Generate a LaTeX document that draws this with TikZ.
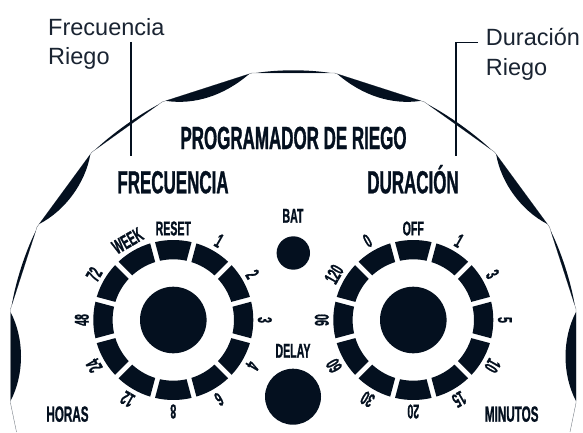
\documentclass[tikz,border=0pt]{standalone}
\usepackage{fontspec}
\setmainfont{Liberation Sans}
\newfontfamily\bebas[FakeStretch=0.53,FakeBold=0.9]{Liberation Sans}
\usetikzlibrary{calc}
\definecolor{ink}{HTML}{04101F}
\definecolor{call}{HTML}{1A2432}
\newcommand{\lensshape}[5]{%
  \coordinate (lp) at (#1);\coordinate (lq) at (#2);
  \fill[ink] (lp) .. controls ($(lp)!#4!(lq)!#3pt!90:(lq)$) and ($(lp)!#5!(lq)!#3pt!90:(lq)$) .. (lq) -- cycle;}
\newcommand{\dial}[3]{%
  \fill[ink] (#1) circle[radius=33.3];
  \foreach \t [count=\k from 0] in {#3} {
    \pgfmathsetmacro\a{90-30*\k}
    \pgfmathsetmacro\ai{\a-13.21}\pgfmathsetmacro\aj{\a+13.21}
    \pgfmathsetmacro\bi{\a+12.64}\pgfmathsetmacro\bj{\a-12.64}
    \pgfmathsetmacro\rot{\a-90}
    \fill[ink,shift={(#1)}] (\ai:80) arc[start angle=\ai,end angle=\aj,radius=80]
      -- (\bi:60.7) arc[start angle=\bi,end angle=\bj,radius=60.7] -- cycle;
    \node[dlabel,rotate=\rot] (#2\k) at ($(#1)+(\a:91.5)$) {\t};
  }}
\tikzset{
  dlabel/.style={inner sep=0pt,text=ink,font=\bebas\bfseries\fontsize{20}{20}\selectfont},
  head/.style={inner sep=0pt,anchor=base,text=ink,font=\bebas\bfseries\fontsize{32}{32}\selectfont},
  unit/.style={inner sep=0pt,anchor=base,text=ink,font=\bebas\bfseries\fontsize{22}{22}\selectfont},
  callout/.style={inner sep=0pt,anchor=base west,text=call,font=\fontsize{23.5}{23.5}\selectfont},
  leader/.style={draw=ink,line width=1.8pt},
  edge line/.style={draw=ink!60,line width=0.35pt}
}
\begin{document}
\begin{tikzpicture}[x=1pt,y=1pt]
\useasboundingbox (0,0) rectangle (583,432);
\fill[white] (0,0) rectangle (583,432);
% outline vertices (y measured upward)
\coordinate (A0) at (16.5,0);
\coordinate (A1) at (10.5,29);
\coordinate (A2) at (10.5,123);
\coordinate (A3) at (37,205);
\coordinate (A4) at (92,280);
\coordinate (A5) at (162,330);
\coordinate (A6) at (252,359);
\coordinate (B6) at (334.5,359);
\coordinate (B5) at (424.5,330);
\coordinate (B4) at (494.5,280);
\coordinate (B3) at (549.5,205);
\coordinate (B2) at (576,123);
\coordinate (B1) at (576,29);
\coordinate (B0) at (570,0);
\draw[edge line] (A0)--(A1)--(A2)--(A3)--(A4)--(A5)--(A6)--(B6)--(B5)--(B4)--(B3)--(B2)--(B1)--(B0);
% lens-shaped strokes, left to right
\lensshape{$(A1)+(0,2)$}{$(A2)+(0,-3)$}{-14}{.3}{.7}
\lensshape{$(A2)!.05!(A3)$}{$(A2)!.95!(A3)$}{3.5}{.3}{.7}
\lensshape{$(A3)!.04!(A4)$}{$(A3)!.97!(A4)$}{-13}{.3}{.7}
\lensshape{$(A4)!.05!(A5)$}{$(A4)!.95!(A5)$}{3.2}{.3}{.7}
\lensshape{$(A5)!.04!(A6)$}{$(A5)!.97!(A6)$}{-13}{.3}{.65}
\lensshape{$(A6)!.05!(B6)$}{$(A6)!.95!(B6)$}{3.6}{.3}{.7}
\lensshape{$(B6)!.03!(B5)$}{$(B6)!.96!(B5)$}{-13}{.35}{.7}
\lensshape{$(B5)!.05!(B4)$}{$(B5)!.95!(B4)$}{3.2}{.3}{.7}
\lensshape{$(B4)!.03!(B3)$}{$(B4)!.96!(B3)$}{-13}{.3}{.7}
\lensshape{$(B3)!.05!(B2)$}{$(B3)!.95!(B2)$}{3.5}{.3}{.7}
\lensshape{$(B2)+(0,-3)$}{$(B1)+(0,2)$}{-14}{.3}{.7}
% titles
\node[head] (title) at (293.5,283) {PROGRAMADOR DE RIEGO};
\node[head] (frec) at (173,238.7) {FRECUENCIA};
\node[head] (dura) at (413,238.7) {DURACIÓN};
% dials
\coordinate (cL) at (173.3,112);
\coordinate (cR) at (413.3,112);
\dial{cL}{L}{RESET,1,2,3,4,6,8,12,24,48,72,WEEK}
\dial{cR}{R}{OFF,1,3,5,10,15,20,30,60,90,120,0}
% centre buttons
\node[circle,fill=ink,minimum size=33.4pt,inner sep=0pt] (bat) at (293.3,179) {};
\node[circle,fill=ink,minimum size=56pt,inner sep=0pt] (delay) at (293,35.3) {};
\node[dlabel,anchor=base] (batl) at (293,209.3) {BAT};
\node[dlabel,anchor=base] (delayl) at (293,74.3) {DELAY};
\node[unit] (horas) at (67.5,10.3) {HORAS};
\node[unit] (minutos) at (511.7,10.3) {MINUTOS};
% callouts
\node[callout] (c1a) at (48,396.3) {Frecuencia};
\node[callout] (c1b) at (48,367) {Riego};
\node[callout] (c2a) at (485.7,386) {Duración};
\node[callout] (c2b) at (485.7,356) {Riego};
\coordinate (f1) at (130.7,390);
\coordinate (f2) at (130.7,276.3);
\coordinate (d0) at (478,389.5);
\coordinate (d1) at (455.7,389.5);
\coordinate (d2) at (455.7,276.3);
\draw[leader] (f1) -- (f2);
\draw[leader] (d0) -- (d1) -- (d2);
\end{tikzpicture}
\end{document}
